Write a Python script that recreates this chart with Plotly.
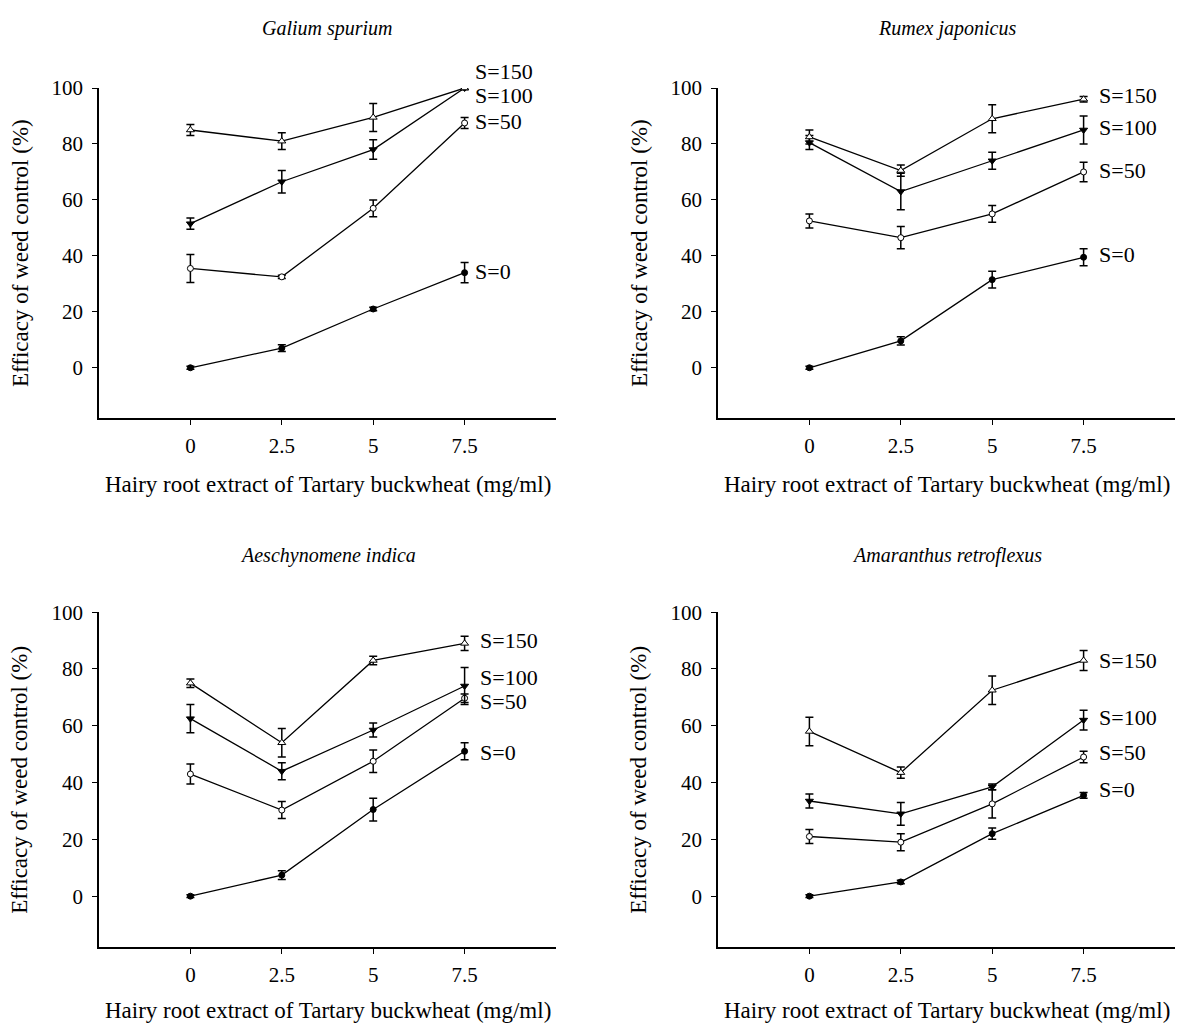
import plotly.graph_objects as go

# ---------------- data ----------------
doses = [0, 2.5, 5, 7.5]
x_tick_labels = ["0", "2.5", "5", "7.5"]
y_ticks = [0, 20, 40, 60, 80, 100]
series_names = ["S=0", "S=50", "S=100", "S=150"]
panel_titles = ["Galium spurium", "Rumex japonicus", "Aeschynomene indica", "Amaranthus retroflexus"]

# Galium spurium
galium_s0 = [0, 7, 21, 34]
galium_s50 = [35.5, 32.5, 57, 87.5]
galium_s100 = [51.5, 66.5, 78, 100]
galium_s150 = [85, 81, 89.5, 100]
galium_err_s0 = [0.5, 1.2, 0.6, 3.6]
galium_err_s50 = [5, 0.6, 3, 2]
galium_err_s100 = [2, 4, 3.5, 0.5]
galium_err_s150 = [2, 3, 5, 0.5]

# Rumex japonicus
rumex_s0 = [0, 9.6, 31.5, 39.5]
rumex_s50 = [52.5, 46.5, 55, 70]
rumex_s100 = [80.5, 63, 74, 85]
rumex_s150 = [82.5, 70.5, 89, 96]
rumex_err_s0 = [0.5, 1.5, 3, 3]
rumex_err_s50 = [2.5, 4, 3, 3.5]
rumex_err_s100 = [2.5, 6.5, 3, 5]
rumex_err_s150 = [2.5, 2, 5, 1]

# Aeschynomene indica
aeschy_s0 = [0, 7.4, 30.5, 51]
aeschy_s50 = [43, 30.3, 47.5, 69.7]
aeschy_s100 = [62.5, 44, 58.5, 74]
aeschy_s150 = [75, 54, 83, 89]
aeschy_err_s0 = [0.5, 1.5, 4, 3]
aeschy_err_s50 = [3.5, 3, 4, 1.5]
aeschy_err_s100 = [5, 3, 2.5, 6.5]
aeschy_err_s150 = [1.5, 5, 1.5, 2.5]

# Amaranthus retroflexus
amaran_s0 = [0, 5, 22, 35.5]
amaran_s50 = [21, 19, 32.5, 49]
amaran_s100 = [33.5, 29, 38.5, 62]
amaran_s150 = [58, 43.5, 72.5, 83]
amaran_err_s0 = [0.5, 0.6, 2, 1]
amaran_err_s50 = [2.5, 3, 5, 2]
amaran_err_s100 = [2.5, 4, 1, 3.5]
amaran_err_s150 = [5, 2, 5, 3.5]

panel_values = [
    [galium_s0, galium_s50, galium_s100, galium_s150],
    [rumex_s0, rumex_s50, rumex_s100, rumex_s150],
    [aeschy_s0, aeschy_s50, aeschy_s100, aeschy_s150],
    [amaran_s0, amaran_s50, amaran_s100, amaran_s150],
]
panel_errors = [
    [galium_err_s0, galium_err_s50, galium_err_s100, galium_err_s150],
    [rumex_err_s0, rumex_err_s50, rumex_err_s100, rumex_err_s150],
    [aeschy_err_s0, aeschy_err_s50, aeschy_err_s100, aeschy_err_s150],
    [amaran_err_s0, amaran_err_s50, amaran_err_s100, amaran_err_s150],
]

# ---------------- layout / style ----------------
W, H = 1177, 1023
FONT = "Liberation Serif, Times New Roman, serif"
Y_RANGE = [-18, 100]
X_RANGE = [-2.5, 10]

# series-label placement (y in data units, x in data units)
label_y = [
    [34.5, 88, 97.5, 106],
    [40.5, 70.5, 86, 97.5],
    [50.5, 68.5, 77, 90],
    [37.5, 50.5, 63, 83],
]
label_x = [7.72, 7.88, 7.88, 7.88]

marker_styles = [
    dict(symbol="circle", size=6, color="black", line=dict(color="black", width=1)),
    dict(symbol="circle", size=6, color="white", line=dict(color="black", width=1)),
    dict(symbol="triangle-down", size=7, color="black", line=dict(color="black", width=1)),
    dict(symbol="triangle-up", size=7, color="white", line=dict(color="black", width=1)),
]

def px_x(p):
    return p / W

def px_y(p):
    # vertical pixel (from top) -> paper, with a small empirical correction
    q = (p - 12) / 0.988
    return 1 - q / H

x_domains = [[px_x(99), px_x(556)], [px_x(718), px_x(1175)]]
y_domains = [[px_y(418), px_y(88)], [px_y(947), px_y(612)]]

def data_to_paper(v, rng, dom):
    return dom[0] + (v - rng[0]) / (rng[1] - rng[0]) * (dom[1] - dom[0])

fig = go.Figure()
annotations = []

for k in range(4):
    row, col = divmod(k, 2)
    ax = "" if k == 0 else str(k + 1)
    xname, yname = "x" + ax, "y" + ax
    for s in range(4):
        fig.add_trace(go.Scatter(
            x=doses, y=panel_values[k][s],
            mode="lines+markers",
            line=dict(color="black", width=1.3),
            marker=marker_styles[s],
            error_y=dict(type="data", array=panel_errors[k][s], visible=True,
                         color="black", thickness=1.5, width=4),
            xaxis=xname, yaxis=yname, showlegend=False, name=series_names[s],
        ))
        annotations.append(dict(
            x=data_to_paper(label_x[k], X_RANGE, x_domains[col]),
            y=data_to_paper(label_y[k][s], Y_RANGE, y_domains[row]),
            xref="paper", yref="paper",
            text=series_names[s], showarrow=False, xanchor="left", yanchor="middle",
            font=dict(family=FONT, size=22, color="black"),
        ))
    axis_common = dict(showline=True, linecolor="black", linewidth=1.5,
                       ticks="outside", ticklen=5, tickwidth=1.2, tickcolor="black",
                       showgrid=False, zeroline=False,
                       tickfont=dict(family=FONT, size=21, color="black"))
    fig.layout["xaxis" + ax] = dict(axis_common, domain=x_domains[col], range=X_RANGE,
                                    tickvals=doses, ticktext=x_tick_labels,
                                    ticklabelstandoff=3, anchor=yname)
    fig.layout["yaxis" + ax] = dict(axis_common, domain=y_domains[row], range=Y_RANGE,
                                    tickvals=y_ticks, ticklabelstandoff=5, anchor=xname)
    # panel title
    xc = (x_domains[col][0] + x_domains[col][1]) / 2
    title_y = [28, 555][row]
    annotations.append(dict(
        x=xc, y=px_y(title_y), xref="paper", yref="paper",
        text="<i>" + panel_titles[k] + "</i>", showarrow=False,
        xanchor="center", yanchor="middle",
        font=dict(family=FONT, size=20, color="black"),
    ))
    # x title
    annotations.append(dict(
        x=xc, y=px_y([484, 1010][row]), xref="paper", yref="paper",
        text="Hairy root extract of Tartary buckwheat (mg/ml)", showarrow=False,
        xanchor="center", yanchor="middle",
        font=dict(family=FONT, size=23, color="black"),
    ))
    # y title
    yc = (y_domains[row][0] + y_domains[row][1]) / 2
    annotations.append(dict(
        x=px_x([20, 639][col]), y=yc, xref="paper", yref="paper",
        text="Efficacy of weed control (%)", showarrow=False, textangle=-90,
        xanchor="center", yanchor="middle",
        font=dict(family=FONT, size=23, color="black"),
    ))

fig.update_layout(
    width=W, height=H,
    margin=dict(l=0, r=0, t=0, b=0),
    paper_bgcolor="white", plot_bgcolor="white",
    annotations=annotations,
    font=dict(family=FONT, color="black"),
)

fig.write_html("out.html", config={"displayModeBar": False},
               post_script="document.body.style.margin='0';document.body.style.overflow='hidden';")
